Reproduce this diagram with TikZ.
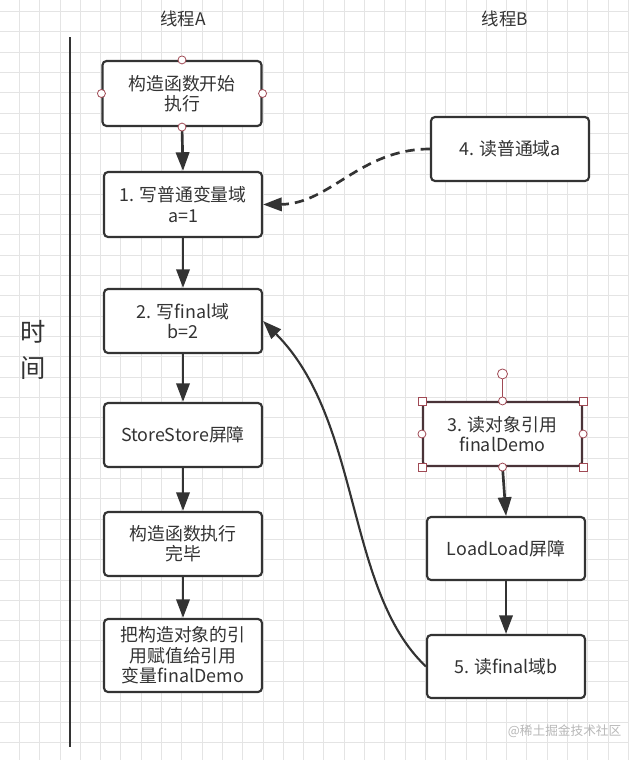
\documentclass[tikz,border=0pt]{standalone}
\usepackage{fontspec}
\setmainfont{Noto Sans CJK SC}
\usetikzlibrary{arrows.meta}
\definecolor{ink}{HTML}{333333}
\definecolor{gridc}{HTML}{E4E4E4}
\definecolor{handle}{HTML}{A04A55}
\definecolor{selb}{HTML}{4A3338}
\definecolor{wm}{HTML}{B8B8B8}
\begin{document}
\begin{tikzpicture}[x=0.75pt,y=-0.75pt,
  box/.style={draw=ink, line width=1.6pt, rounded corners=3pt, fill=white, text=ink, align=center,
    inner sep=0pt, minimum width=118.5pt, minimum height=48pt, font=\fontsize{13.4pt}{15.3pt}\selectfont},
  flow/.style={draw=ink, line width=2pt, -{Triangle[length=14pt,width=10pt]}},
  curvearrow/.style={draw=ink, line width=1.6pt, -{Triangle[length=14pt,width=10pt]}},
  dasharrow/.style={draw=ink, line width=2pt, dash pattern=on 7pt off 4.5pt, -{Triangle[length=14pt,width=10pt]}},
  hdl/.style={draw=handle, fill=white, line width=0.6pt},
  head/.style={text=ink, font=\fontsize{13pt}{15pt}\selectfont},
  gridline/.style={draw=gridc, line width=0.6pt}
]
\useasboundingbox (0,0) rectangle (629,760);
\fill[white] (0,0) rectangle (629,760);
\begin{scope}
\clip (0,0) rectangle (629,760);
\foreach \i in {0,...,31} {\draw[gridline] ({-1+20.3*\i},0) -- ({-1+20.3*\i},760);}
\foreach \j in {0,...,37} {\draw[gridline] (0,{11.5+20.3*\j}) -- (629,{11.5+20.3*\j});}
\end{scope}

% headers
\node[head] (hA) at (183,18.5) {线程A};
\node[head] (hB) at (505,18.5) {线程B};

% time axis
\coordinate (t0) at (70,37);
\coordinate (t1) at (70,747);
\draw[ink, line width=1.8pt] (t0) -- (t1);
\node[text=ink, align=center, font=\fontsize{19pt}{27pt}\selectfont] (time) at (33,350) {时\\间};

% thread A
\node[box, minimum width=119.25pt, minimum height=48.75pt] (a0) at (182,93.5) {构造函数开始\\执行};
\node[box, minimum height=48.75pt] (a1) at (183,204.5) {1. 写普通变量域\\a=1};
\node[box] (a2) at (183,321) {2. 写final域\\b=2};
\node[box] (a3) at (183,435) {StoreStore屏障};
\node[box] (a4) at (183,544) {构造函数执行\\完毕};
\node[box, minimum height=54.75pt] (a5) at (183,655.5) {把构造对象的引\\用赋值给引用\\变量finalDemo};

% thread B
\node[box] (b4) at (510,149) {4. 读普通域a};
\node[box, draw=selb, minimum width=119.25pt] (b3) at (502.5,434) {3. 读对象引用\\finalDemo};
\node[box, minimum height=47.25pt] (bl) at (506,548.5) {LoadLoad屏障};
\node[box, minimum height=47.25pt] (b5) at (506,666.5) {5. 读final域b};

% flow arrows
\draw[flow] (a0.south) -- (a1.north);
\draw[flow] (a1.south) -- (a2.north);
\draw[flow] (a2.south) -- (a3.north);
\draw[flow] (a3.south) -- (a4.north);
\draw[flow] (a4.south) -- (a5.north);
\draw[flow] (b3.south) -- (bl.north);
\draw[flow] (bl.south) -- (b5.north);

% cross-thread arrows
\draw[dasharrow] (b4.west) .. controls (360,149) and (330,204) .. (a1.east);
\draw[curvearrow] (b5.west) .. controls (345,590) and (362,420) .. (a2.east);

% selection handles on a0
\foreach \a in {north,south,east,west} {\draw[hdl] (a0.\a) circle (4);}

% selection handles on b3
\draw[handle, line width=0.8pt] (b3.north) -- ++(0,-22);
\draw[hdl] (b3.north) ++(0,-27) circle (5);
\foreach \a in {north,south,east,west} {\draw[hdl] (b3.\a) circle (4);}
\foreach \a in {north west,north east,south west,south east} {\draw[hdl] (b3.\a) ++(-4,-4) rectangle ++(8,8);}

% watermark
\node[text=wm, font=\fontsize{9.5pt}{11pt}\selectfont, anchor=east] (wmk) at (626,731) {@稀土掘金技术社区};
\end{tikzpicture}
\end{document}
